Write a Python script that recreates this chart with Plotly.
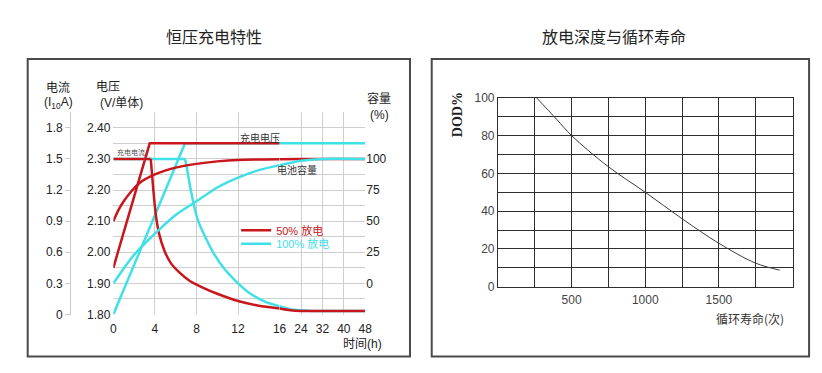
import plotly.graph_objects as go

W, H = 822, 373

# ---------------- data: constant-voltage charge characteristics ----------------
hours_red_volt = [0, 3.5, 16]
volt_red = [1.95, 2.35, 2.35]
hours_cyan_volt = [0, 6.9, 16, 48]
volt_cyan = [1.80, 2.35, 2.35, 2.35]

hours_red_curr = [0, 3.6, 3.85, 4.1, 4.4, 4.9, 5.5, 6.3, 7.4, 8.6, 10, 12, 14, 16, 20, 24, 32, 48]
curr_red = [1.5, 1.5, 1.2, 0.95, 0.78, 0.62, 0.5, 0.41, 0.32, 0.26, 0.2, 0.13, 0.085, 0.058, 0.042, 0.035, 0.035, 0.035]
hours_cyan_curr = [0, 6.9, 7.1, 7.45, 8.1, 8.6, 9.6, 10.6, 11.8, 13.2, 14.7, 16, 20, 24, 28, 48]
curr_cyan = [1.5, 1.5, 1.4, 1.2, 0.92, 0.8, 0.6, 0.45, 0.32, 0.2, 0.12, 0.08, 0.05, 0.04, 0.035, 0.035]
knee_red, knee_cyan = 1, 1   # index where the constant-current part ends

hours_red_cap = [0, 0.5, 1, 1.74, 2.5, 4, 6, 8, 10, 12, 16, 24, 48]
cap_red = [50, 59, 66, 74, 80.5, 87.5, 93, 96, 98, 99.2, 99.8, 100, 100]
hours_cyan_cap = [0, 1, 2, 4, 6, 8, 10, 12, 14, 16, 24, 32, 48]
cap_cyan = [0, 12, 23, 40, 55, 66, 77, 85, 91, 95, 98.5, 100, 100]

hour_ticks_a = [0, 4, 8, 12, 16]
hour_ticks_b = [24, 32, 40, 48]
volt_ticks = [1.80, 1.90, 2.00, 2.10, 2.20, 2.30, 2.40]
curr_ticks = [0, 0.3, 0.6, 0.9, 1.2, 1.5, 1.8]
curr_tick_text = ["0", "0.3", "0.6", "0.9", "1.2", "1.5", "1.8"]
cap_ticks = [0, 25, 50, 75, 100]

# ---------------- data: depth of discharge vs cycle life ----------------
cycles = [262, 400, 500, 750, 1000, 1250, 1500, 1750, 1913]
dod = [100, 88.5, 80, 63.5, 50, 36, 23, 12.5, 8.8]
cycle_ticks = [500, 1000, 1500]
dod_ticks = [0, 20, 40, 60, 80, 100]

RED = "#c8161c"
CYAN = "#3fe0e6"
GRID = "#cfcfcf"
FONT = "Liberation Sans, Arial, Noto Sans CJK SC, sans-serif"
CJK = "Noto Sans CJK SC, sans-serif"


def px(p):
    return p / W


def py(p):
    return 1 - p / H


def split_at(hours, vals, brk=16):
    a = [(h, v) for h, v in zip(hours, vals) if h <= brk]
    b = [(h, v) for h, v in zip(hours, vals) if h >= brk]
    return a, b


fig = go.Figure()


def add_series(hours, vals, yaxis, color, shape="spline"):
    a, b = split_at(hours, vals)
    for part, xa in ((a, "x"), (b, "x2")):
        if len(part) < 2:
            continue
        fig.add_trace(go.Scatter(
            x=[p[0] for p in part], y=[p[1] for p in part],
            xaxis=xa, yaxis=yaxis, mode="lines",
            line=dict(color=color, width=2.5, shape=shape, smoothing=0.6),
            showlegend=False, hoverinfo="skip"))


def add_current(hours, vals, knee, color):
    # constant-current part straight, taper part smooth
    add_series(hours[:knee + 1], vals[:knee + 1], "y2", color, shape="linear")
    add_series(hours[knee:], vals[knee:], "y2", color)


add_current(hours_cyan_curr, curr_cyan, knee_cyan, CYAN)
add_series(hours_cyan_volt, volt_cyan, "y", CYAN, shape="linear")
add_series(hours_red_cap, cap_red, "y3", RED)
add_series(hours_cyan_cap, cap_cyan, "y3", CYAN)
add_current(hours_red_curr, curr_red, knee_red, RED)
add_series(hours_red_volt, volt_red, "y", RED, shape="linear")

# legend entries
fig.add_trace(go.Scatter(x=[None], y=[None], xaxis="x", yaxis="y", mode="lines",
                         line=dict(color=RED, width=2.5), legend="legend",
                         name=f'<span style="color:{RED}">50% 放电</span>'))
fig.add_trace(go.Scatter(x=[None], y=[None], xaxis="x", yaxis="y", mode="lines",
                         line=dict(color=CYAN, width=2.5), legend="legend2",
                         name=f'<span style="color:{CYAN}">100% 放电</span>'))

# right chart
fig.add_trace(go.Scatter(x=cycles, y=dod, xaxis="x3", yaxis="y4", mode="lines",
                         line=dict(color="#3a3a3a", width=1, shape="spline"),
                         showlegend=False, hoverinfo="skip"))

tickfont = dict(family=FONT, size=12, color="#222")
legfont = dict(family=FONT, size=11)

fig.update_layout(
    width=W, height=H,
    margin=dict(l=0, r=0, t=0, b=0),
    paper_bgcolor="white", plot_bgcolor="rgba(0,0,0,0)",
    showlegend=True,
    legend=dict(x=px(236), y=py(232), xanchor="left", yanchor="middle",
                bgcolor="rgba(0,0,0,0)", font=legfont, itemwidth=30),
    legend2=dict(x=px(236), y=py(246), xanchor="left", yanchor="middle",
                 bgcolor="rgba(0,0,0,0)", font=legfont, itemwidth=30),
    xaxis=dict(domain=[px(111.7), px(280)], range=[0, 16], anchor="y",
               tickvals=hour_ticks_a, ticktext=[str(t) for t in hour_ticks_a],
               showgrid=True, gridcolor=GRID, gridwidth=1, zeroline=False,
               showline=False, ticks="", tickfont=tickfont, ticklabelstandoff=5),
    xaxis2=dict(domain=[px(280), px(366.7)], range=[16, 48], anchor="y",
                tickvals=hour_ticks_b, ticktext=[str(t) for t in hour_ticks_b],
                showgrid=True, gridcolor=GRID, gridwidth=1, zeroline=False,
                showline=False, ticks="", tickfont=tickfont, ticklabelstandoff=5),
    yaxis=dict(domain=[py(319.5), py(109.3)], range=[1.8, 2.45], anchor="x",
               tickvals=volt_ticks, ticktext=["%.2f" % v for v in volt_ticks],
               showgrid=True, gridcolor=GRID, zeroline=False, showline=False,
               ticks="", tickfont=tickfont, ticklabelstandoff=2,
               minor=dict(dtick=0.05, tick0=1.8, showgrid=True, gridcolor=GRID)),
    yaxis2=dict(overlaying="y", anchor="free", position=px(68), side="left",
                range=[0, 1.95], tickvals=curr_ticks, ticktext=curr_tick_text,
                showgrid=False, zeroline=False, showline=True, linecolor="#cccccc",
                ticks="outside", ticklen=5, tickcolor="#cccccc", tickfont=tickfont),
    yaxis3=dict(overlaying="y", anchor="free", position=px(366.7), side="right",
                range=[-25, 137.5], tickvals=cap_ticks, ticktext=[str(c) for c in cap_ticks],
                showgrid=False, zeroline=False, showline=False, ticks="",
                tickfont=tickfont),
    xaxis3=dict(domain=[px(501), px(799.3)], range=[0, 2000], anchor="y4",
                tickvals=cycle_ticks, ticktext=[str(c) for c in cycle_ticks],
                showgrid=True, gridcolor="#2e2e2e", gridwidth=1, zeroline=False,
                showline=True, linecolor="#2e2e2e", mirror=True, ticks="",
                ticklabelstandoff=2,
                minor=dict(dtick=250, tick0=0, showgrid=True, gridcolor="#2e2e2e"),
                tickfont=dict(family=FONT, size=12, color="#444")),
    yaxis4=dict(domain=[py(290.7), py(94.3)], range=[0, 100], anchor="x3",
                tickvals=dod_ticks, ticktext=[str(d) for d in dod_ticks],
                showgrid=True, gridcolor="#2e2e2e", gridwidth=1, zeroline=False,
                showline=True, linecolor="#2e2e2e", mirror=True, ticks="",
                minor=dict(dtick=10, tick0=0, showgrid=True, gridcolor="#2e2e2e"),
                tickfont=dict(family=FONT, size=12, color="#444")),
)

# panel borders
for x0, x1 in ((25, 412), (434, 816)):
    fig.add_shape(type="rect", xref="paper", yref="paper",
                  x0=px(x0), x1=px(x1), y0=py(363), y1=py(54),
                  line=dict(color="#4a4a4a", width=2), fillcolor="rgba(0,0,0,0)")


def note(text, x, y, size=12, color="#222", family=FONT, xanchor="center", angle=0):
    fig.add_annotation(text=text, x=px(x), y=py(y), xref="paper", yref="paper",
                       showarrow=False, xanchor=xanchor, yanchor="middle",
                       textangle=angle, font=dict(family=family, size=size, color=color))


note("恒压充电特性", 214, 30, size=16, family=CJK)
note("放电深度与循环寿命", 619, 30, size=16, family=CJK)
note("电流", 56, 84)
note("(I<sub>10</sub>A)", 56, 100)
note("电压", 92, 83, xanchor="left")
note("(V/单体)", 96, 100, xanchor="left")
note("容量", 381, 95)
note("(%)", 381, 112)
note("时间(h)", 364, 350)
note("充电电流", 130, 151, size=7, color="#555", family=CJK)
note("充电电压", 260, 136, size=10, color="#333", family=CJK)
note("电池容量", 298, 169, size=10, color="#333", family=CJK)
note("<b>DOD%</b>", 460, 112, size=14, family="Liberation Serif, serif", angle=-90)
note("循环寿命(次)", 756, 324, size=12, color="#333", family=CJK)

fig.write_html("out.html", config={"displayModeBar": False},
               post_script="document.body.style.margin='0';document.body.style.overflow='hidden';")
